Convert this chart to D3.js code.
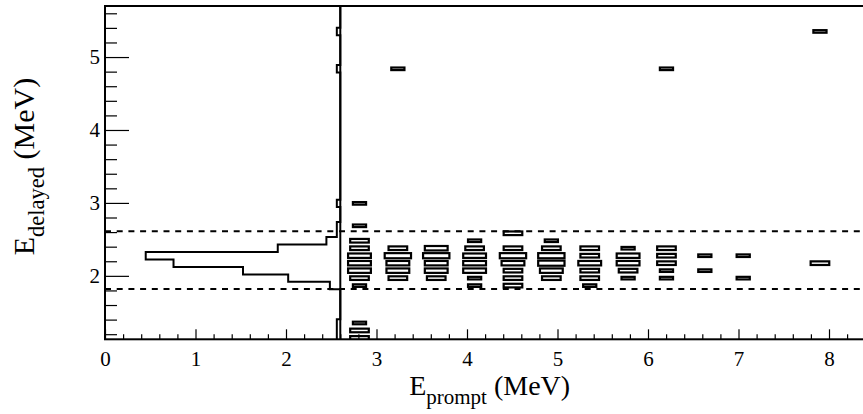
<!DOCTYPE html>
<html>
<head>
<meta charset="utf-8">
<script src="https://cdn.jsdelivr.net/npm/d3@7"></script>
<style>
  body { margin: 0; background: #fff; }
  text { font-family: "Liberation Serif", "Times New Roman", serif; fill: #000; }
</style>
</head>
<body>
<svg id="chart" width="863" height="414"></svg>
<script>
// ---- Binning of the 2D histogram (prompt vs delayed energy, MeV) ----
const xBinStart = 2.6, xBinWidth = 0.424;
const yBinStart = 1.815, yBinWidth = 0.1025;

// Filled cells: prompt bin index, delayed bin index, entries
const boxXBin  = [0,0,0,0,0,0,0,0,0,0,0,0,
                  1,1,1,1,1,1,
                  2,2,2,2,2,
                  3,3,3,3,3,3,3,
                  4,4,4,4,4,4,4,
                  5,5,5,5,5,5,
                  6,6,6,6,6,6,
                  7,7,7,7,7,
                  8,8,8,8,8,8,
                  9,9,
                  10,10,
                  12,12];
const boxYBin  = [11,8,6,5,4,3,2,1,0,-5,-6,-7,
                  29,5,4,3,2,1,
                  5,4,3,2,1,
                  6,5,4,3,2,1,0,
                  7,5,4,3,2,1,0,
                  6,5,4,3,2,1,
                  5,4,3,2,1,0,
                  5,4,3,2,1,
                  29,5,4,3,2,1,
                  4,2,
                  4,1,
                  34,3];
const boxCount = [1,1,2,2,3,3,3,2,1,1,2,2,
                  1,2,4,3,3,2,
                  3,4,3,3,2,
                  1,2,3,3,3,1,1,
                  2,2,4,3,2,2,2,
                  1,2,4,4,3,2,
                  2,2,3,2,2,1,
                  1,3,3,2,1,
                  1,2,2,2,1,1,
                  1,1,
                  1,1,
                  1,2];
const zMax = 8.5;   // content that would fill a whole cell

// Projection onto the delayed energy (drawn leftwards from the prompt cut)
const projYBin  = [-7,-6,-5,0,1,2,3,4,5,6,7,8,11,29,34];
const projCount = [ 1, 1, 1,3,15,28,48,56,18,4,1,1,1,1,1];
const projCountMax = 56, projReach = 0.45;   // largest bin reaches E_prompt = 0.45

// Selection cuts
const promptCut = 2.6;
const delayedLow = 1.82, delayedHigh = 2.61;

// Axis ticks
const xTickValues = [0,1,2,3,4,5,6,7,8];
const yTickValues = [2,3,4,5];
const minorStep = 0.2;

// ---- Layout ----
const svg = d3.select("#chart");
const frameL = 105, frameT = 6, frameB = 339.3;
const x = d3.scaleLinear().domain([0, 8.5]).range([frameL, frameL + 8.5 * 90.5]);
const y = d3.scaleLinear().domain([1.13, 5.7]).range([frameB, frameT]);
const frameR = x.range()[1];

svg.append("defs").append("clipPath").attr("id", "plot")
  .append("rect").attr("x", frameL).attr("y", frameT)
  .attr("width", frameR - frameL).attr("height", frameB - frameT);

const plot = svg.append("g").attr("clip-path", "url(#plot)");

// ---- Boxes (area proportional to entries) ----
const frac = d3.scaleSqrt().domain([0, zMax]).range([0, 1]);
const cellW = x(xBinWidth) - x(0);
const cellH = y(0) - y(yBinWidth);
const cells = boxCount.map((c, i) => ({ i: boxXBin[i], k: boxYBin[i], c }));
plot.selectAll("rect.cell").data(cells).join("rect")
  .attr("class", "cell")
  .attr("x", d => x(xBinStart + (d.i + 0.5) * xBinWidth) - cellW * frac(d.c) / 2)
  .attr("y", d => y(yBinStart + (d.k + 0.5) * yBinWidth) - cellH * frac(d.c) / 2)
  .attr("width", d => cellW * frac(d.c))
  .attr("height", d => cellH * frac(d.c))
  .attr("fill", "#fff").attr("stroke", "#000").attr("stroke-width", 2.2);

// ---- Projection (step outline) ----
const px = d3.scaleLinear().domain([0, projCountMax]).range([x(promptCut), x(projReach)]);
const kMin = Math.floor((y.domain()[0] - yBinStart) / yBinWidth);
const kMax = Math.ceil((y.domain()[1] - yBinStart) / yBinWidth);
const projMap = new Map(projYBin.map((k, i) => [k, projCount[i]]));
const pts = [];
for (let k = kMin; k <= kMax; k++) {
  const v = projMap.get(k) || 0;
  pts.push([px(v), y(yBinStart + k * yBinWidth)]);
  pts.push([px(v), y(yBinStart + (k + 1) * yBinWidth)]);
}
plot.append("path").attr("d", d3.line()(pts))
  .attr("fill", "none").attr("stroke", "#000").attr("stroke-width", 2);

// ---- Cut lines ----
plot.append("line")
  .attr("x1", x(promptCut)).attr("x2", x(promptCut))
  .attr("y1", frameT).attr("y2", frameB)
  .attr("stroke", "#000").attr("stroke-width", 2);
plot.selectAll("line.cut").data([delayedLow, delayedHigh]).join("line")
  .attr("class", "cut")
  .attr("x1", frameL).attr("x2", frameR)
  .attr("y1", d => y(d)).attr("y2", d => y(d))
  .attr("stroke", "#000").attr("stroke-width", 2)
  .attr("stroke-dasharray", "6,5.7");

// ---- Axes (ticks pointing into the frame) ----
const xMinor = d3.range(0, 8.5 + 1e-9, minorStep).filter(v => Math.abs(v - Math.round(v)) > 1e-6);
const yMinor = d3.range(1.2, 5.7 + 1e-9, minorStep).filter(v => Math.abs(v - Math.round(v)) > 1e-6);

const gx = svg.append("g").attr("transform", `translate(0,${frameB})`);
gx.append("g").call(d3.axisBottom(x).tickValues(xMinor).tickSize(-5).tickFormat(""));
gx.append("g").call(d3.axisBottom(x).tickValues(xTickValues).tickSize(-10).tickPadding(12).tickFormat(d3.format("d")));

const gy = svg.append("g").attr("transform", `translate(${frameL},0)`);
gy.append("g").call(d3.axisLeft(y).tickValues(yMinor).tickSize(-12).tickFormat(""));
gy.append("g").call(d3.axisLeft(y).tickValues(yTickValues).tickSize(-24).tickPadding(5).tickFormat(d3.format("d")));

svg.selectAll(".domain").remove();
svg.selectAll(".tick line").attr("stroke", "#000").attr("stroke-width", 1.2);
svg.selectAll(".tick text").attr("font-size", 21)
  .style("font-family", "'Liberation Serif', 'Times New Roman', serif");

// Frame
svg.append("rect").attr("x", frameL).attr("y", frameT)
  .attr("width", frameR - frameL).attr("height", frameB - frameT)
  .attr("fill", "none").attr("stroke", "#000").attr("stroke-width", 2);

// ---- Titles ----
const xt = svg.append("text").attr("x", (frameL + frameR) / 2).attr("y", 395)
  .attr("text-anchor", "middle").attr("font-size", 28);
xt.append("tspan").text("E");
xt.append("tspan").attr("font-size", 21).attr("dy", 9).text("prompt");
xt.append("tspan").attr("dy", -9).text(" (MeV)");

const yt = svg.append("text")
  .attr("transform", "translate(34,166.5) rotate(-90)")
  .attr("text-anchor", "middle").attr("font-size", 30);
yt.append("tspan").text("E");
yt.append("tspan").attr("font-size", 22.5).attr("dy", 9.5).text("delayed");
yt.append("tspan").attr("dy", -9.5).text(" (MeV)");
</script>
</body>
</html>
